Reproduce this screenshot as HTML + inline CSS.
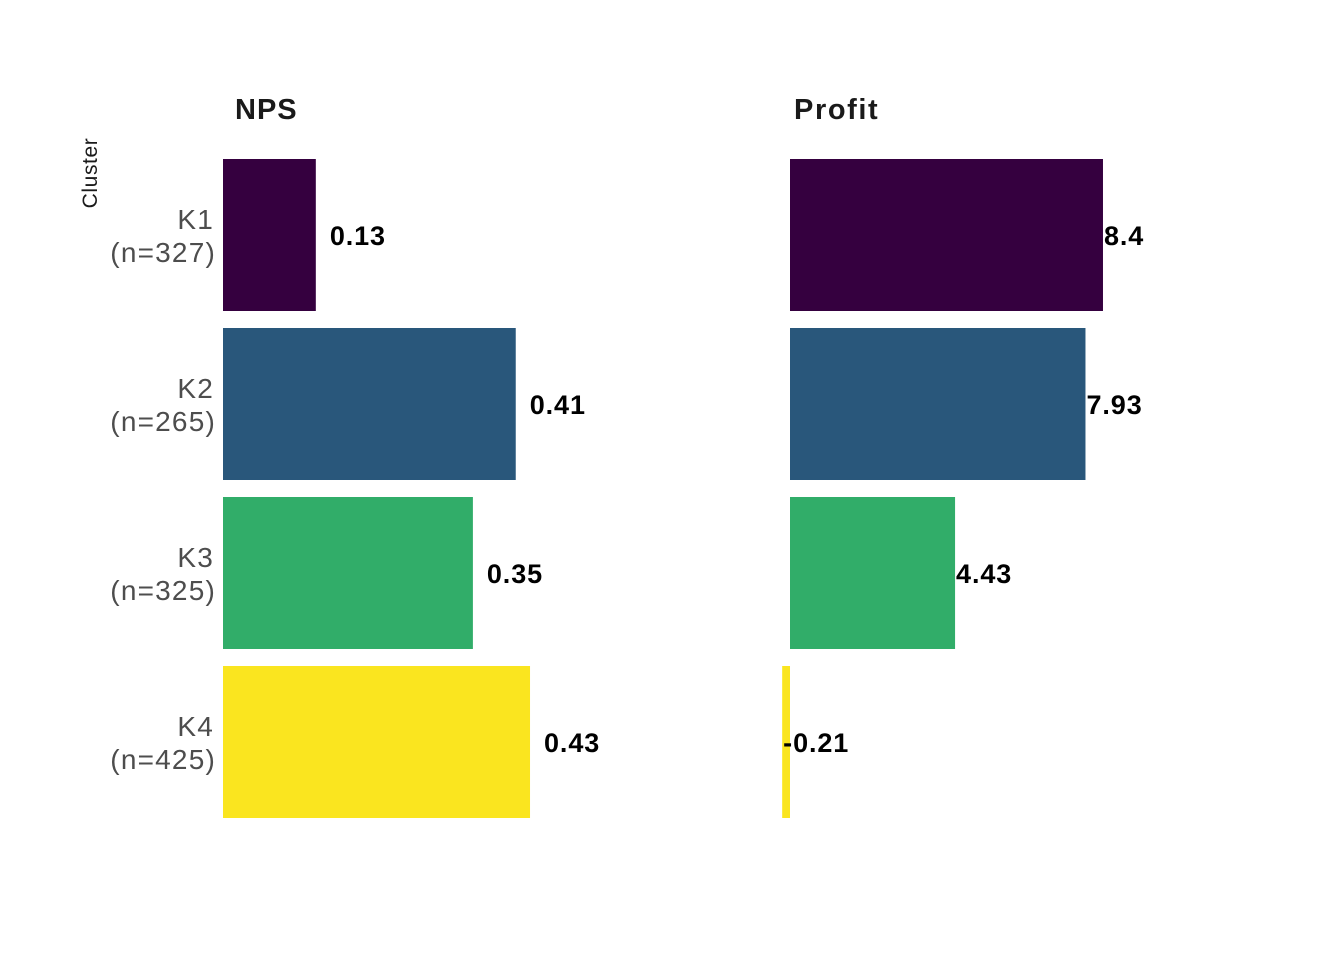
<!DOCTYPE html>
<html><head><meta charset="utf-8"><style>
html,body{margin:0;padding:0;background:#fff;}
svg{display:block;font-family:"Liberation Sans",sans-serif;}
</style></head><body>
<svg id="chart" width="1344" height="960" viewBox="0 0 1344 960">
<text transform="translate(97,173) rotate(-90)" text-anchor="middle" font-size="21" letter-spacing="0.6" fill="#1a1a1a">Cluster</text>
<text x="235" y="119" font-size="29" font-weight="bold" letter-spacing="1" fill="#1a1a1a">NPS</text>
<text x="794" y="119" font-size="29" font-weight="bold" letter-spacing="1.6" fill="#1a1a1a">Profit</text>
<g id="labels"></g>
<g id="nps"></g>
<g id="profit"></g>
</svg>
<script>
const categories = ["K1","K2","K3","K4"];
const counts = [327,265,325,425];
const npsValues = [0.13,0.41,0.35,0.43];
const profitValues = [8.4,7.93,4.43,-0.21];
const profitLabels = ["8.4","7.93","4.43","-0.21"];
const npsLabels = ["0.13","0.41","0.35","0.43"];
const colors = ["#35003f","#29577b","#31ad69","#fae51f"];

const NS = "http://www.w3.org/2000/svg";
const bandTop = 159, step = 169, barH = 152;
const yBand = i => bandTop + i*step;
const xNps = v => 223 + v*714;
const xProfit = v => 790 + v*37.26;

function mk(tag, attrs, parent){
  const e = document.createElementNS(NS, tag);
  for (const k in attrs) e.setAttribute(k, attrs[k]);
  parent.appendChild(e);
  return e;
}
const gL = document.getElementById('labels');
const gN = document.getElementById('nps');
const gP = document.getElementById('profit');

categories.forEach((c,i)=>{
  const y = yBand(i), cy = y + barH/2;
  const t1 = mk('text',{x:214,y:cy-6,'text-anchor':'end','font-size':28,'letter-spacing':1.2,fill:'#4d4d4d'},gL);
  t1.textContent = c;
  
  
  const t2 = mk('text',{x:216,y:cy+27,'text-anchor':'end','font-size':28,'letter-spacing':1.2,fill:'#4d4d4d'},gL);
  t2.textContent = '(n='+counts[i]+')';
  
  

  const x0 = xNps(0), x1 = xNps(npsValues[i]);
  const r = mk('rect',{x:Math.min(x0,x1),y:y,width:Math.abs(x1-x0),height:barH,fill:colors[i]},gN);
  
  
  const lt = mk('text',{x:x1+14,y:cy+10,'font-size':27,'font-weight':'bold','letter-spacing':0.9,fill:'#000'},gN);
  lt.textContent = npsLabels[i];
  
  

  const p0 = xProfit(0), p1 = xProfit(profitValues[i]);
  const pr = mk('rect',{x:Math.min(p0,p1),y:y,width:Math.abs(p1-p0),height:barH,fill:colors[i]},gP);
  
  
  const pt = mk('text',{x:p1+1,y:cy+10,'font-size':27,'font-weight':'bold','letter-spacing':0.9,fill:'#000'},gP);
  pt.textContent = profitLabels[i];
  
  
});
</script>
</body></html>
